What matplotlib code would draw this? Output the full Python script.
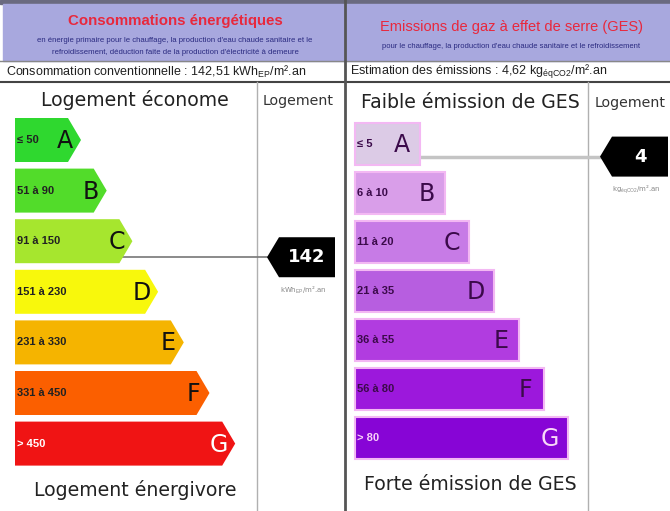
import matplotlib.pyplot as plt
from matplotlib.patches import Polygon, Rectangle

plt.rcParams['mathtext.fontset'] = 'custom'
plt.rcParams['mathtext.rm'] = 'Liberation Sans'

# --- data ---
classes = ['A', 'B', 'C', 'D', 'E', 'F', 'G']
energy_ranges = ['≤ 50', '51 à 90', '91 à 150', '151 à 230', '231 à 330', '331 à 450', '> 450']
energy_low = [0, 51, 91, 151, 231, 331, 451]
energy_high = [50, 90, 150, 230, 330, 450, 600]
ges_ranges = ['≤ 5', '6 à 10', '11 à 20', '21 à 35', '36 à 55', '56 à 80', '> 80']
ges_low = [0, 6, 11, 21, 36, 56, 81]
ges_high = [5, 10, 20, 35, 55, 80, 120]
energy_value = 142.51
ges_value = 4.62

energy_colors = ['#2fd82f', '#52dc2a', '#a6e62e', '#f8f80c', '#f5b400', '#fb5f00', '#f01414']
ges_colors = ['#dccbe6', '#d99ee9', '#c77be6', '#b75ee0', '#b13ce0', '#9c18dc', '#8705d6']


def find_class(v, lows, highs):
    for i in range(len(lows)):
        if v <= highs[i]:
            return i, (v - lows[i]) / (highs[i] - lows[i])
    return len(lows) - 1, 0.5


fig = plt.figure(figsize=(6.7, 5.11), dpi=100)
ax = fig.add_axes([0, 0, 1, 1])
ax.set_xlim(0, 670)
ax.set_ylim(511, 0)
ax.axis('off')

# header band
ax.add_patch(Rectangle((0, 0), 670, 4, color='#6a6a80', zorder=1))
ax.add_patch(Rectangle((3, 4), 667, 57, color='#a8a8de', zorder=1))
ax.plot([0, 670], [61, 61], color='#888888', lw=1, zorder=2)
ax.plot([0, 670], [82, 82], color='#444444', lw=1.5, zorder=2)
ax.plot([345, 345], [0, 511], color='#555555', lw=2, zorder=3)
ax.plot([257, 257], [82, 511], color='#b0b0b0', lw=1, zorder=2)
ax.plot([588, 588], [82, 511], color='#b0b0b0', lw=1, zorder=2)

title_font = 'Liberation Sans'
ax.text(175, 21, 'Consommations énergétiques', color='#e8283c', fontsize=10.8,
        fontweight='bold', family=title_font, ha='center', va='center')
ax.text(175, 41, "en énergie primaire pour le chauffage, la production d'eau chaude sanitaire et le",
        color='#2a2a80', fontsize=5.6, family=title_font, ha='center', va='center')
ax.text(175, 52, "refroidissement, déduction faite de la production d'électricité à demeure",
        color='#2a2a80', fontsize=5.6, family=title_font, ha='center', va='center')
ax.text(511, 27, 'Emissions de gaz à effet de serre (GES)', color='#e8283c', fontsize=10.5,
        family=title_font, ha='center', va='center')
ax.text(511, 46, "pour le chauffage, la production d'eau chaude sanitaire et le refroidissement",
        color='#2a2a80', fontsize=5.5, family=title_font, ha='center', va='center')

ax.text(6, 72, 'Consommation conventionnelle : %s kWh$_{\\mathrm{EP}}$/m².an'
        % ('%.2f' % energy_value).replace('.', ','),
        fontsize=9, family=title_font, color='#202020', ha='left', va='center')
ax.text(350, 72, 'Estimation des émissions : %s kg$_{\\mathrm{éqCO2}}$/m².an'
        % ('%.2f' % ges_value).replace('.', ','),
        fontsize=9, family=title_font, color='#202020', ha='left', va='center')

# column headings
ax.text(135, 100, 'Logement économe', fontsize=13.6, color='#222222', ha='center', va='center')
ax.text(298, 101, 'Logement', fontsize=10.2, color='#333333', ha='center', va='center')
ax.text(135, 490, 'Logement énergivore', fontsize=13.6, color='#222222', ha='center', va='center')
ax.text(470, 102, 'Faible émission de GES', fontsize=13.6, color='#222222', ha='center', va='center')
ax.text(630, 103, 'Logement', fontsize=10.2, color='#333333', ha='center', va='center')
ax.text(470, 484, 'Forte émission de GES', fontsize=13.6, color='#222222', ha='center', va='center')

# energy arrows
e_x0, e_end0, e_step, e_top0, e_pitch, e_h, tip = 15, 68, 25.7, 118, 50.6, 44, 13
for i, c in enumerate(classes):
    t = e_top0 + i * e_pitch
    b = t + e_h
    xe = e_end0 + i * e_step
    ax.add_patch(Polygon([(e_x0, t), (xe, t), (xe + tip, (t + b) / 2), (xe, b), (e_x0, b)],
                         closed=True, facecolor=energy_colors[i], edgecolor='none', zorder=4))
    fg = 'white' if c == 'G' else '#111111'
    ax.text(xe - 3, (t + b) / 2 + 1, c, fontsize=17, color=fg,
            ha='center', va='center', zorder=5)
    ax.text(17, (t + b) / 2, energy_ranges[i], fontsize=8, fontweight='bold', family=title_font,
            color='white' if c == 'G' else '#222222', ha='left', va='center', zorder=5)

# GES bars
g_x0, g_end0, g_step, g_top0, g_pitch, g_h = 355, 420, 24.7, 123, 49, 42
for i, c in enumerate(classes):
    t = g_top0 + i * g_pitch
    xe = g_end0 + i * g_step
    ax.add_patch(Rectangle((g_x0, t), xe - g_x0, g_h, facecolor=ges_colors[i],
                           edgecolor='#f3b8f3', lw=1.5, zorder=4))
    fg = '#f8d8f8' if c == 'G' else '#3b0a4a'
    ax.text(xe - 18, t + g_h / 2 + 1, c, fontsize=17, color=fg,
            ha='center', va='center', zorder=5)
    ax.text(357, t + g_h / 2, ges_ranges[i], fontsize=8, fontweight='bold', family=title_font,
            color='#f8d0f8' if c == 'G' else '#3b0a4a', ha='left', va='center', zorder=5)

# value markers
def marker(x_tip, yc, label, unit, line_x0, line_color, line_w):
    h = 40
    body = x_tip + 12
    right = x_tip + 68
    ax.plot([line_x0, x_tip], [yc, yc], color=line_color, lw=line_w, zorder=3)
    ax.add_patch(Polygon([(x_tip, yc), (body, yc - h / 2), (right, yc - h / 2),
                          (right, yc + h / 2), (body, yc + h / 2)],
                         closed=True, facecolor='black', edgecolor='none', zorder=6))
    ax.text((body + right) / 2, yc, label, fontsize=13, fontweight='bold', color='white',
            ha='center', va='center', zorder=7)
    ax.text((x_tip + right) / 2 + 2, yc + h / 2 + 13, unit, fontsize=5, color='#888888',
            ha='center', va='center', zorder=7)

ei, ef = find_class(int(energy_value), energy_low, energy_high)
marker(267, e_top0 + ei * e_pitch + ef * e_h, str(int(energy_value)),
       'kWh$_{\\mathrm{EP}}$/m².an', e_end0 + ei * e_step, '#777777', 1.2)

gi, gf = find_class(int(ges_value), ges_low, ges_high)
marker(600, g_top0 + gi * g_pitch + gf * g_h, str(int(ges_value)),
       'kg$_{\\mathrm{éqCO2}}$/m².an', g_end0 + gi * g_step, '#c4c4c4', 2.5)

fig.savefig('out.png', dpi=100)
